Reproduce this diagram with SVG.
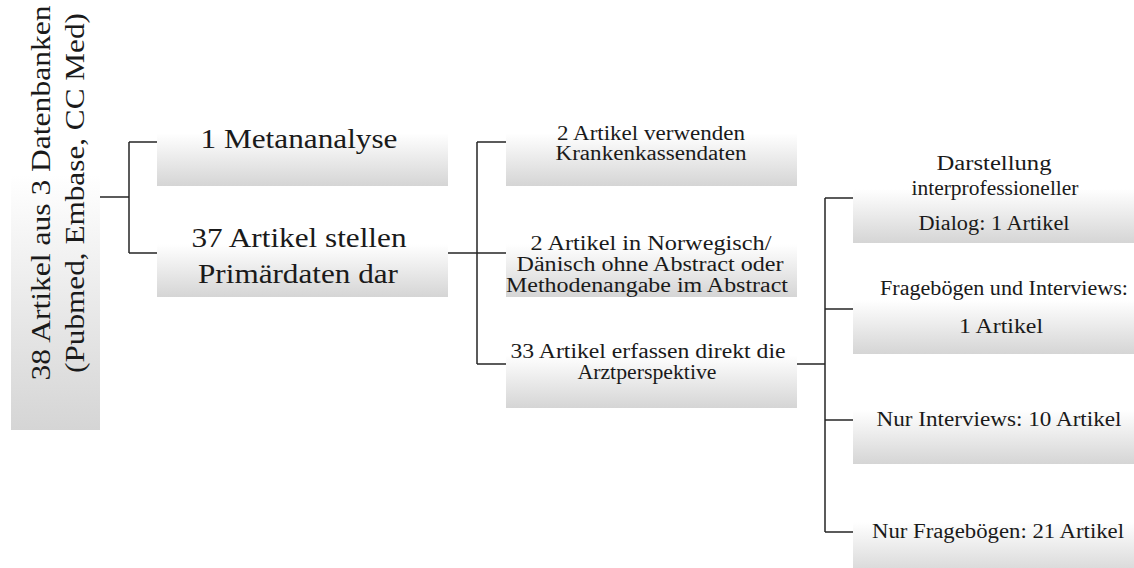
<svg xmlns="http://www.w3.org/2000/svg" width="1134" height="568" viewBox="0 0 1134 568">
  <defs>
    <!-- soft white-to-grey fill used by every box -->
    <linearGradient id="boxFill" x1="0" y1="0" x2="0" y2="1">
      <stop offset="0" stop-color="#ffffff"/>
      <stop offset="0.4" stop-color="#ffffff"/>
      <stop offset="1" stop-color="#d5d5d5"/>
    </linearGradient>
    <linearGradient id="rootFill" x1="0" y1="0" x2="0" y2="1">
      <stop offset="0" stop-color="#ffffff"/>
      <stop offset="0.45" stop-color="#ffffff"/>
      <stop offset="1" stop-color="#d5d5d5"/>
    </linearGradient>
    <style>
      .box { fill: url(#boxFill); stroke: none; }
      .root { fill: url(#rootFill); stroke: none; }
      .lbl { font-family: "Liberation Serif", "Times New Roman", serif; fill: #1a1a1a; text-anchor: middle; }
      .big { font-size: 28px; }
      .small { font-size: 20px; }
      .conn { fill: none; stroke: #262626; stroke-width: 1.5; }
    </style>
  </defs>

  <rect width="1134" height="568" fill="#ffffff"/>

  <!-- connectors -->
  <g id="connectors" class="conn">
    <path d="M100 197 H129 M129 142 V253 M129 142 H157 M129 253 H157"/>
    <path d="M448 253 H506 M477 142 V364 M477 142 H506 M477 364 H506"/>
    <path d="M797 364 H825 M825 198 V532 M825 198 H853 M825 309 H853 M825 420 H853 M825 532 H853"/>
  </g>

  <!-- root -->
  <g id="root">
    <rect class="root" x="11" y="-34" width="89" height="464"/>
    <text class="lbl big" transform="translate(50,193) rotate(-90)" textLength="375" lengthAdjust="spacingAndGlyphs">38 Artikel aus 3 Datenbanken</text>
    <text class="lbl big" transform="translate(84,193) rotate(-90)" textLength="360" lengthAdjust="spacingAndGlyphs">(Pubmed, Embase, CC Med)</text>
  </g>

  <!-- first level -->
  <g id="meta">
    <rect class="box" x="157" y="98" width="291" height="88"/>
    <text class="lbl big" x="299" y="148" textLength="197" lengthAdjust="spacingAndGlyphs">1 Metananalyse</text>
  </g>
  <g id="primary">
    <rect class="box" x="157" y="209" width="291" height="88"/>
    <text class="lbl big" x="299" y="247" textLength="215" lengthAdjust="spacingAndGlyphs">37 Artikel stellen</text>
    <text class="lbl big" x="298" y="283" textLength="200" lengthAdjust="spacingAndGlyphs">Primärdaten dar</text>
  </g>

  <!-- second level -->
  <g id="insurance">
    <rect class="box" x="506" y="98" width="291" height="88"/>
    <text class="lbl small" x="651" y="139.5" textLength="188" lengthAdjust="spacingAndGlyphs">2 Artikel verwenden</text>
    <text class="lbl small" x="651" y="160" textLength="191" lengthAdjust="spacingAndGlyphs">Krankenkassendaten</text>
  </g>
  <g id="nordic">
    <rect class="box" x="506" y="209" width="291" height="88"/>
    <text class="lbl small" x="651" y="249.5" textLength="241" lengthAdjust="spacingAndGlyphs">2 Artikel in Norwegisch/</text>
    <text class="lbl small" x="650" y="270.5" textLength="267" lengthAdjust="spacingAndGlyphs">Dänisch ohne Abstract oder</text>
    <text class="lbl small" x="647" y="291.5" textLength="282" lengthAdjust="spacingAndGlyphs">Methodenangabe im Abstract</text>
  </g>
  <g id="direct">
    <rect class="box" x="506" y="320" width="291" height="88"/>
    <text class="lbl small" x="648" y="357.5" textLength="275" lengthAdjust="spacingAndGlyphs">33 Artikel erfassen direkt die</text>
    <text class="lbl small" x="647" y="378.5" textLength="139" lengthAdjust="spacingAndGlyphs">Arztperspektive</text>
  </g>

  <!-- third level -->
  <g id="dialog">
    <rect class="box" x="853" y="153" width="291" height="90"/>
    <text class="lbl small" x="994" y="170" textLength="115" lengthAdjust="spacingAndGlyphs">Darstellung</text>
    <text class="lbl small" x="995" y="195" textLength="167" lengthAdjust="spacingAndGlyphs">interprofessioneller</text>
    <text class="lbl small" x="994" y="230" textLength="151" lengthAdjust="spacingAndGlyphs">Dialog: 1 Artikel</text>
  </g>
  <g id="mixed">
    <rect class="box" x="853" y="264" width="291" height="90"/>
    <text class="lbl small" x="1004" y="295" textLength="248" lengthAdjust="spacingAndGlyphs">Fragebögen und Interviews:</text>
    <text class="lbl small" x="1001" y="333" textLength="84" lengthAdjust="spacingAndGlyphs">1 Artikel</text>
  </g>
  <g id="interviews">
    <rect class="box" x="853" y="374" width="291" height="90"/>
    <text class="lbl small" x="999" y="426" textLength="245" lengthAdjust="spacingAndGlyphs">Nur Interviews: 10 Artikel</text>
  </g>
  <g id="questionnaires">
    <rect class="box" x="853" y="486" width="291" height="90"/>
    <text class="lbl small" x="998" y="538" textLength="252" lengthAdjust="spacingAndGlyphs">Nur Fragebögen: 21 Artikel</text>
  </g>
</svg>
